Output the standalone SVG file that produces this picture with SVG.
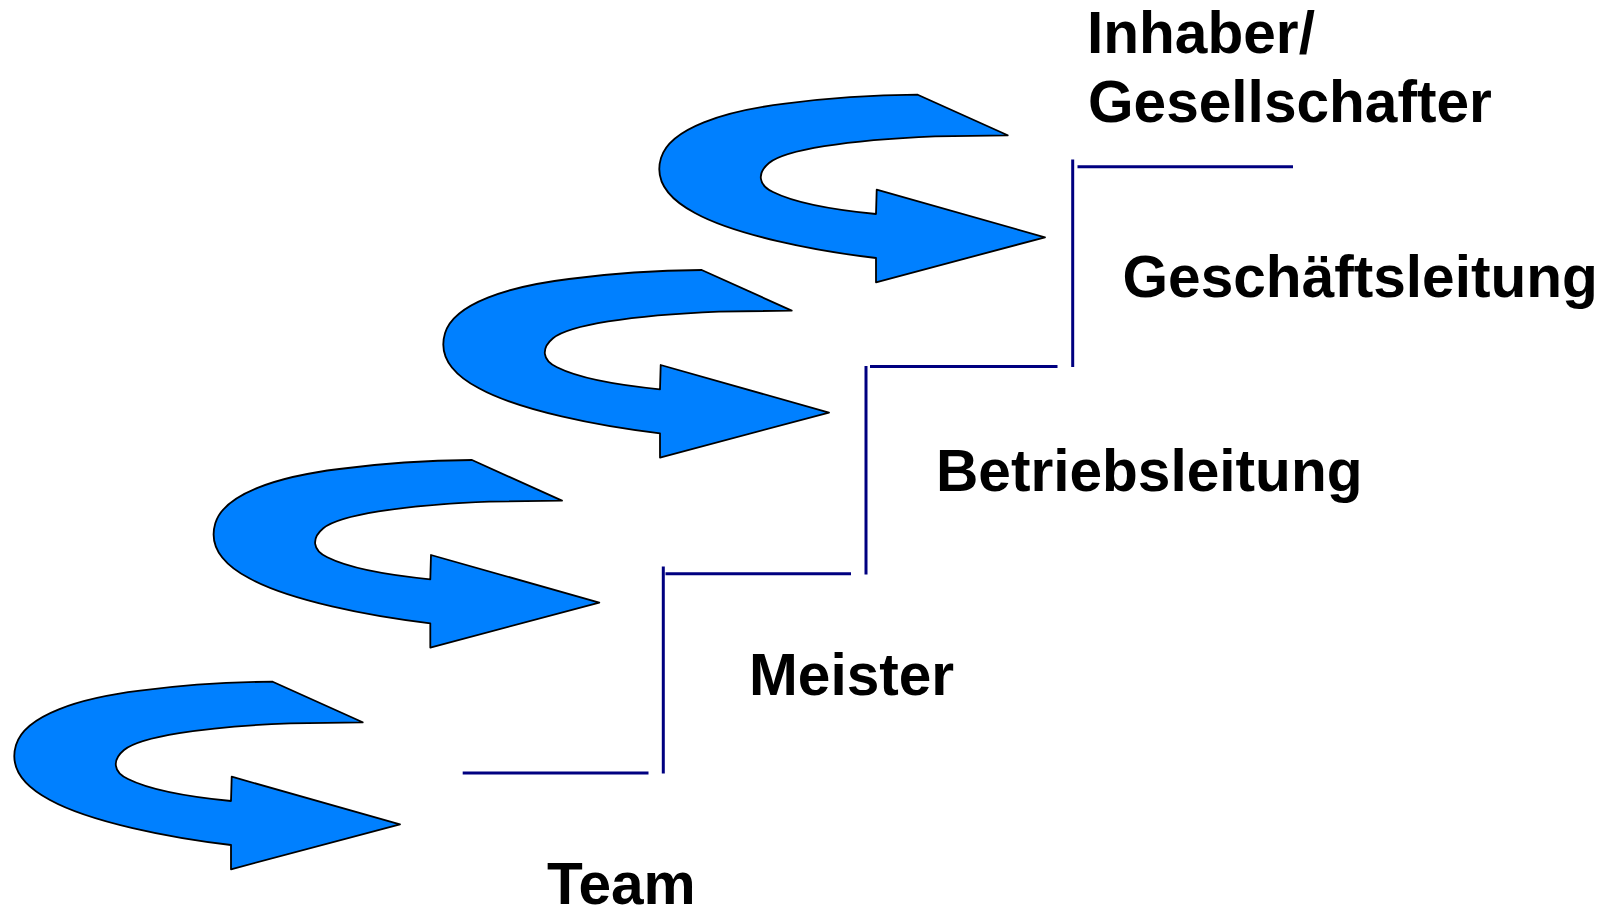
<svg xmlns="http://www.w3.org/2000/svg" xmlns:xlink="http://www.w3.org/1999/xlink" width="1605" height="910" viewBox="0 0 1605 910">
<style>
.arrow{fill:#0080FF;stroke:#000;stroke-width:1.8;stroke-linejoin:round}
.step{stroke:#000080;stroke-width:3;fill:none}
.lbl{font-family:"Liberation Sans",Arial,sans-serif;font-weight:bold;font-size:58.6px;fill:#000}
</style>
<defs>
<path id="uarrow" class="arrow" d="M272.7,681.7 L362.7,722.3 L290,723.3 C200,727 140,737 124,750 C112,760 113,772 128,779 C150,790 190,797 231,801 L231.7,776.7 L400,824.3 L231,869.3 L231,845 C170,838 90,822 50,800 C20,784 10,765 16,745 C25,715 80,698 140,690.7 C190,684 230,682 272.7,681.7 Z"/>
</defs>
<rect width="1605" height="910" fill="#fff"/>
<g id="arrow1"><use xlink:href="#uarrow" href="#uarrow"/></g>
<g id="arrow2"><use xlink:href="#uarrow" href="#uarrow" transform="translate(199.3,-221.7)"/></g>
<g id="arrow3"><use xlink:href="#uarrow" href="#uarrow" transform="translate(429,-411.7)"/></g>
<g id="arrow4"><use xlink:href="#uarrow" href="#uarrow" transform="translate(645,-587)"/></g>
<g id="connectors">
<line class="step" x1="462.7" y1="773" x2="648.5" y2="773"/>
<line class="step" x1="663.3" y1="566.5" x2="663.3" y2="773.5"/>
<line class="step" x1="665.5" y1="573.8" x2="851" y2="573.8"/>
<line class="step" x1="866" y1="366" x2="866" y2="574.5"/>
<line class="step" x1="870" y1="366.5" x2="1057.5" y2="366.5"/>
<line class="step" x1="1072.7" y1="159.5" x2="1072.7" y2="367"/>
<line class="step" x1="1077.5" y1="166.8" x2="1293" y2="166.8"/>
</g>
<g id="label-inhaber"><text class="lbl" x="1087" y="52.5">Inhaber/</text><text class="lbl" x="1088" y="122">Gesellschafter</text></g>
<g id="label-geschaeftsleitung"><text class="lbl" x="1122.5" y="296.5">Geschäftsleitung</text></g>
<g id="label-betriebsleitung"><text class="lbl" x="936" y="491">Betriebsleitung</text></g>
<g id="label-meister"><text class="lbl" x="749" y="695">Meister</text></g>
<g id="label-team"><text class="lbl" x="547" y="904">Team</text></g>
</svg>
